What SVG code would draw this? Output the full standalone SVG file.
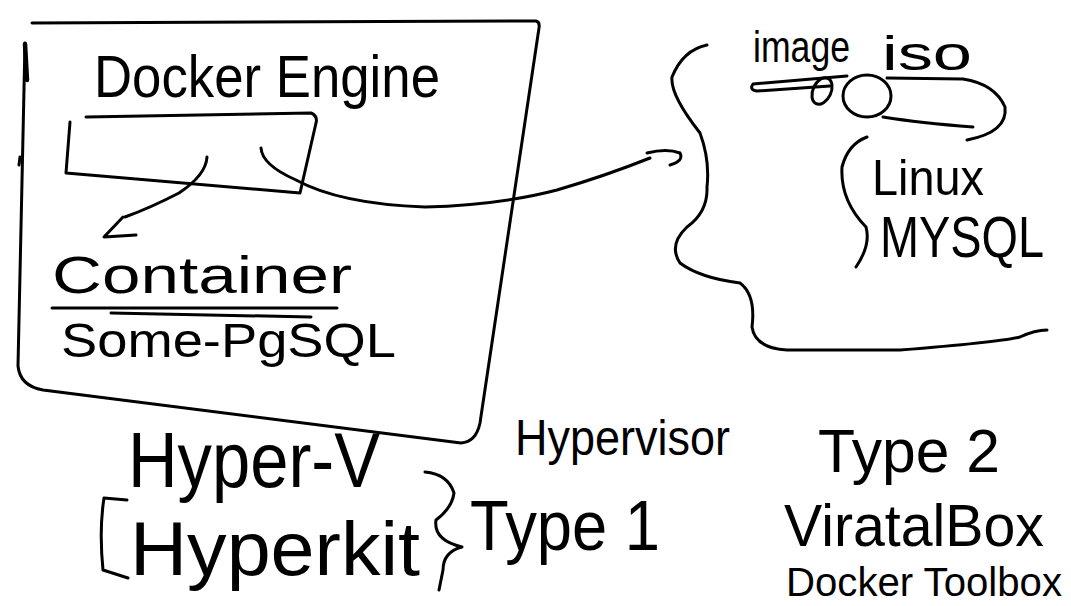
<svg xmlns="http://www.w3.org/2000/svg" width="1071" height="606" viewBox="0 0 1071 606">
<style>
.s{fill:none;stroke:#000;stroke-width:3;stroke-linecap:round;stroke-linejoin:round}
.t{font-family:"Liberation Sans",Arial,sans-serif;fill:#000}
</style>
<rect width="1071" height="606" fill="#fff"/>
<g id="host-box">
<path class="s" d="M32 23 L536 21 Q540 22 539 28 L480 423 Q476 442 461 443 L43 390 Q20 386 18 366 L25 43"/>
<path class="s" style="stroke-width:4.5" d="M25 44 L27 80"/>
<path class="s" d="M20 157 L19 165"/>
</g>
<g id="docker-engine">
<text class="t" x="94" y="97" font-size="60" textLength="346" lengthAdjust="spacingAndGlyphs">Docker Engine</text>
<path class="s" d="M86 117 L311 113 Q318 116 316 123 L300 193 L66 173 L70 122"/>
</g>
<g id="container">
<text class="t" x="52" y="293" font-size="52" textLength="300" lengthAdjust="spacingAndGlyphs">Container</text>
<path class="s" d="M52 308 L337 308"/>
<path class="s" d="M111 313 L311 317"/>
<text class="t" x="61" y="357" font-size="48" textLength="335" lengthAdjust="spacingAndGlyphs">Some-PgSQL</text>
</g>
<g id="image-group">
<path class="s" d="M707 45 Q683 50 672 77 Q670 95 700 133 Q710 160 707 187 Q708 212 687 227 Q668 245 680 263 Q700 278 740 283 Q756 295 752 327 Q755 348 787 350 L900 350 Q1000 342 1020 337 Q1035 330 1047 330"/>
<text class="t" x="753" y="62" font-size="44" textLength="97" lengthAdjust="spacingAndGlyphs">image</text>
<text class="t" x="882" y="70" font-size="48" textLength="90" lengthAdjust="spacingAndGlyphs">iso</text>
<path class="s" d="M847 76 L753 84 Q749 90 757 91 L830 86"/>
<ellipse class="s" cx="822" cy="91" rx="9" ry="14" transform="rotate(25 822 91)"/>
<ellipse class="s" cx="867" cy="96" rx="24" ry="21"/>
<path class="s" d="M887 78 L963 79 Q995 84 1005 107 Q1008 132 967 140"/>
<path class="s" d="M883 117 Q920 123 973 127"/>
<path class="s" d="M867 137 Q848 144 842 167 Q840 200 866 227 Q871 245 856 267"/>
<text class="t" x="872" y="195" font-size="50" textLength="112" lengthAdjust="spacingAndGlyphs">Linux</text>
<text class="t" x="880" y="257" font-size="58" textLength="164" lengthAdjust="spacingAndGlyphs">MYSQL</text>
</g>
<g id="type1">
<text class="t" x="128" y="487" font-size="78" textLength="252" lengthAdjust="spacingAndGlyphs">Hyper-V</text>
<path class="s" d="M127 500 L104 498 Q99 530 103 570 L128 578"/>
<text class="t" x="130" y="575" font-size="76" textLength="290" lengthAdjust="spacingAndGlyphs">Hyperkit</text>
<path class="s" d="M425 472 Q448 474 454 493 Q452 508 436 520 Q433 540 462 547 Q443 552 443 570 L439 590"/>
<text class="t" x="470" y="550" font-size="70" textLength="190" lengthAdjust="spacingAndGlyphs">Type 1</text>
</g>
<g id="hypervisor">
<text class="t" x="515" y="455" font-size="50" textLength="215" lengthAdjust="spacingAndGlyphs">Hypervisor</text>
</g>
<g id="type2">
<text class="t" x="818" y="472" font-size="62" textLength="182" lengthAdjust="spacingAndGlyphs">Type 2</text>
<text class="t" x="784" y="546" font-size="60" textLength="260" lengthAdjust="spacingAndGlyphs">ViratalBox</text>
<text class="t" x="786" y="596" font-size="40" textLength="276" lengthAdjust="spacingAndGlyphs">Docker Toolbox</text>
</g>
<g id="connectors">
<path class="s" d="M207 157 Q206 175 179 193 Q150 208 125 217"/>
<path class="s" d="M123 217 L104 237 L136 235"/>
<path class="s" d="M261 148 Q262 165 296 180 Q340 204 425 207 Q500 205 557 190 Q605 176 650 158"/>
<path class="s" d="M647 153 Q667 148 680 153 Q684 161 670 165"/>
</g>
</svg>
